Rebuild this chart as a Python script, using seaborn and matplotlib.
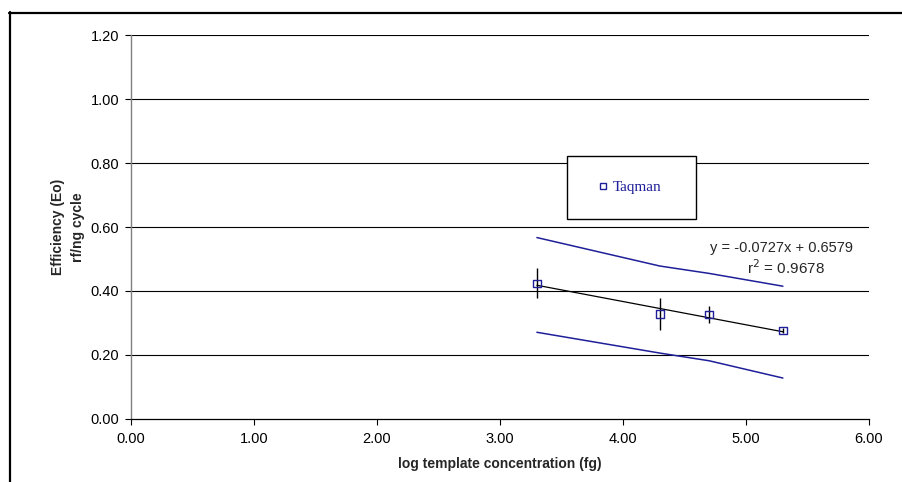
import numpy as np
import pandas as pd
import matplotlib
matplotlib.use("Agg")
import matplotlib.pyplot as plt
import seaborn as sns
from matplotlib.patches import Rectangle
from matplotlib.lines import Line2D

# ---- data ----
log_conc = [3.30, 4.30, 4.70, 5.30]
efficiency = [0.424, 0.329, 0.326, 0.276]
eff_err = [0.047, 0.050, 0.027, 0.008]
upper_band = [0.567, 0.478, 0.455, 0.415]
lower_band = [0.271, 0.206, 0.182, 0.128]
slope = -0.0727
intercept = 0.6579
r_squared = 0.9678
x_ticks = [0, 1, 2, 3, 4, 5, 6]
y_ticks = [0.0, 0.2, 0.4, 0.6, 0.8, 1.0, 1.2]
series_name = "Taqman"

df = pd.DataFrame({"x": log_conc, "y": efficiency, "err": eff_err,
                   "up": upper_band, "lo": lower_band})
df["fit"] = slope * df["x"] + intercept

sns.set_style("white")
plt.rcParams["font.family"] = ["Liberation Sans", "DejaVu Sans"]

fig = plt.figure(figsize=(9.02, 4.82), dpi=100)
W, H = 902, 482
ax = fig.add_axes([131 / W, 1 - 419 / H, (869 - 131) / W, (419 - 35) / H])

navy = "#1f1f99"

# grid lines
for yv in y_ticks[1:]:
    ax.axhline(yv, color="black", lw=0.8, zorder=1)

# confidence lines
sns.lineplot(data=df, x="x", y="up", ax=ax, color=navy, lw=1.1, zorder=3)
sns.lineplot(data=df, x="x", y="lo", ax=ax, color=navy, lw=1.1, zorder=3)
# fit line
sns.lineplot(data=df, x="x", y="fit", ax=ax, color="black", lw=0.9, zorder=3)
# error bars
ax.errorbar(df["x"], df["y"], yerr=df["err"], fmt="none", ecolor="black",
            elinewidth=1.0, capsize=0, zorder=4)
# points
sns.scatterplot(data=df, x="x", y="y", ax=ax, marker="s", s=30,
                facecolor="none", edgecolor=navy, linewidth=1.0, zorder=5)

ax.set_xlim(0, 6)
ax.set_ylim(0, 1.2)
ax.set_xticks(x_ticks)
ax.set_xticklabels([f"{v:.2f}" for v in x_ticks])
ax.set_yticks(y_ticks)
ax.set_yticklabels([f"{v:.2f}" for v in y_ticks])
ax.tick_params(axis="both", direction="out", length=4, width=0.8,
               labelsize=10.5, colors="black", left=True, bottom=True)
ax.tick_params(axis="x", pad=5.5)
ax.tick_params(axis="y", pad=4.5)

for s in ["top", "right"]:
    ax.spines[s].set_visible(False)
ax.spines["left"].set_color("#808080")
ax.spines["left"].set_linewidth(1.0)
ax.spines["bottom"].set_color("black")
ax.spines["bottom"].set_linewidth(0.9)

ax.set_xlabel("log template concentration (fg)", fontsize=10, fontweight="bold")
ax.xaxis.set_label_coords(0.5, -(457 - 419) / 384)
ax.set_ylabel("Efficiency (Eo)\nrf/ng cycle", fontsize=10, fontweight="bold",
              linespacing=1.55)
ax.yaxis.set_label_coords((85 - 131) / 738, 0.5)

# equation text
ax.text((781 - 131) / 738, (419 - 248) / 384, f"y = {slope}x + {intercept}",
        transform=ax.transAxes, ha="center", va="center", fontsize=10.5, zorder=6)
ax.text((786 - 131) / 738, (419 - 268) / 384, f"r$^2$ = {r_squared}",
        transform=ax.transAxes, ha="center", va="center", fontsize=11, zorder=6)

# legend box
x0 = (567 - 131) / 738
x1 = (696 - 131) / 738
y0 = (419 - 219) / 384
y1 = (419 - 156) / 384
ax.add_patch(Rectangle((x0, y0), x1 - x0, y1 - y0, transform=ax.transAxes,
                       facecolor="white", edgecolor="black", lw=1.0, zorder=7))
handle = Line2D([], [], marker="s", ls="none", markerfacecolor="none",
                markeredgecolor=navy, markersize=5, markeredgewidth=1.0)
leg = ax.legend([handle], [series_name], loc="center",
                bbox_to_anchor=((x0 + x1) / 2 - 0.002, (y0 + y1) / 2),
                bbox_transform=ax.transAxes, frameon=False,
                prop={"family": ["Liberation Serif"], "size": 11},
                handlelength=0.6, handletextpad=0.3)
leg.set_zorder(8)
for t in leg.get_texts():
    t.set_color(navy)

# outer frame (partially visible)
fig.add_artist(Line2D([9.5 / W, 9.5 / W], [0, 1 - 12 / H],
                      transform=fig.transFigure, color="black", lw=1.6))
fig.add_artist(Line2D([9 / W, 1], [1 - 12.5 / H, 1 - 12.5 / H],
                      transform=fig.transFigure, color="black", lw=1.6))

fig.savefig("out.png", dpi=100)
